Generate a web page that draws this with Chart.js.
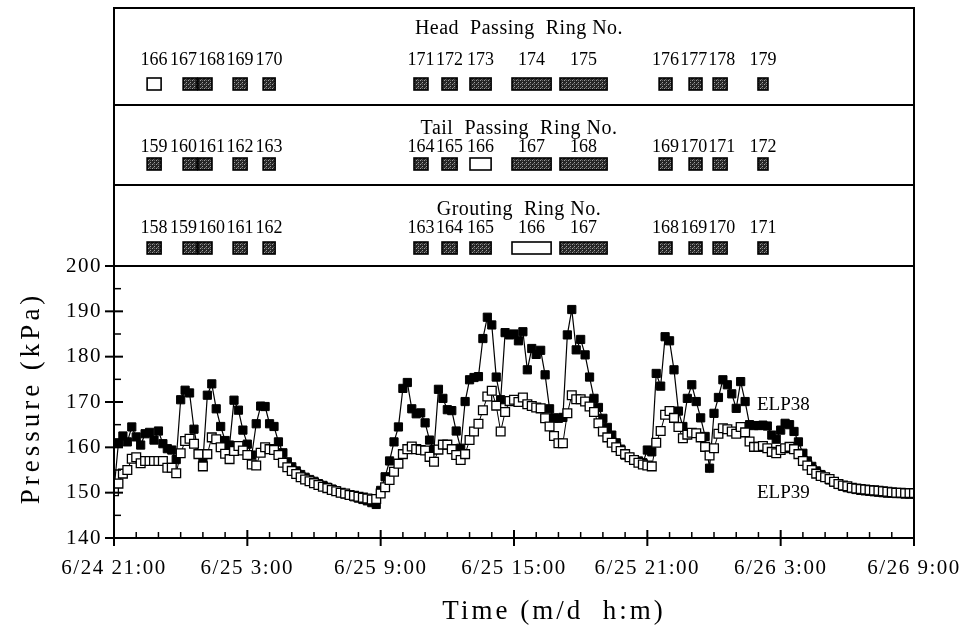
<!DOCTYPE html>
<html>
<head>
<meta charset="utf-8">
<script src="https://cdn.jsdelivr.net/npm/chart.js@4.4.0/dist/chart.umd.min.js"></script>
<style>
  html, body { margin: 0; padding: 0; background: #fff; }
</style>
</head>
<body>
<canvas id="chart" width="964" height="634"></canvas>
<script>
// readings every 12 minutes, starting 6/24 21:00
var stepHours = 0.2;

var timeLabels = ['6/24 21:00', '6/25 3:00', '6/25 9:00', '6/25 15:00', '6/25 21:00', '6/26 3:00', '6/26 9:00'];

// ELP38, one row per hour
var elp38 = [
  150.6, 161.0, 162.5, 161.2, 164.5,
  162.3, 160.5, 163.0, 163.3, 161.6,
  163.6, 160.8, 159.7, 159.4, 157.3,
  170.5, 172.6, 172.0, 164.0, 158.6,
  156.8, 171.5, 174.0, 168.5, 164.6,
  161.5, 160.5, 170.4, 168.2, 163.8,
  160.7, 158.3, 165.2, 169.1, 169.0,
  165.2, 164.6, 161.2, 158.8, 156.8,
  155.7, 154.8, 154.0, 153.4, 152.9,
  152.5, 152.0, 151.6, 151.2, 150.8,
  150.4, 150.0, 149.7, 149.4, 149.1,
  148.8, 148.5, 148.2, 147.8, 147.4,
  150.5, 153.5, 157.0, 161.2, 164.5,
  173.0, 174.3, 168.5, 167.4, 167.6,
  165.4, 161.6, 159.5, 172.8, 170.8,
  168.3, 168.1, 163.6, 159.8, 170.1,
  174.9, 175.4, 175.6, 184.0, 188.7,
  187.0, 175.5, 170.5, 185.3, 184.8,
  185.0, 183.5, 185.5, 177.1, 181.8,
  180.5, 181.4, 176.0, 168.5, 166.5,
  166.4, 166.6, 184.8, 190.4, 181.5,
  183.8, 180.4, 175.5, 170.8, 168.8,
  166.4, 164.4, 162.7, 161.0, 159.6,
  158.3, 157.8, 157.3, 157.0, 156.6,
  159.4, 159.0, 176.3, 173.5, 184.4,
  183.5, 177.1, 168.0, 164.6, 170.8,
  173.8, 170.1, 166.5, 162.4, 155.4,
  167.5, 171.0, 174.9, 173.8, 171.8,
  168.6, 174.5, 170.1, 165.0, 164.8,
  164.8, 164.9, 164.7, 162.7, 161.8,
  163.8, 165.3, 165.0, 163.5, 161.2,
  158.7, 157.0, 155.8, 154.8, 154.0,
  153.4, 152.8, 152.3, 151.8, 151.4,
  151.1, 150.9, 150.7, 150.5, 150.4,
  150.3, 150.2, 150.1, 150.0, 149.9,
  149.9, 149.8, 149.8, 149.7, 149.7,
  149.7
];

// ELP39, one row per hour
var elp39 = [
  150.3, 152.0, 154.2, 155.0, 157.5,
  157.8, 156.5, 157.0, 157.0, 157.0,
  157.0, 157.0, 155.5, 155.5, 154.3,
  158.7, 161.4, 161.9, 160.8, 158.5,
  155.8, 158.5, 162.2, 161.8, 160.0,
  158.6, 157.4, 159.2, 160.3, 159.3,
  158.3, 156.2, 156.0, 158.8, 160.0,
  159.6, 159.4, 158.3, 156.6, 155.6,
  154.8, 154.1, 153.4, 152.9, 152.5,
  152.1, 151.7, 151.3, 151.0, 150.6,
  150.3, 150.0, 149.8, 149.5, 149.3,
  149.1, 148.9, 148.7, 148.5, 148.6,
  149.8, 151.2, 152.8, 154.6, 156.4,
  158.5, 159.6, 160.2, 159.6, 159.4,
  159.3, 157.9, 156.8, 159.5, 160.6,
  160.6, 159.6, 158.3, 157.2, 158.5,
  161.6, 163.5, 165.2, 168.2, 171.2,
  172.5, 169.2, 163.5, 167.8, 170.2,
  170.5, 170.0, 171.0, 169.5, 169.1,
  168.8, 168.6, 166.4, 164.6, 162.5,
  160.9, 160.9, 167.5, 171.5, 170.6,
  170.6, 170.1, 169.0, 167.8, 165.3,
  163.5, 162.2, 161.0, 160.0, 159.2,
  158.5, 157.8, 157.2, 156.6, 156.2,
  156.0, 155.8, 161.0, 163.6, 167.2,
  168.0, 166.5, 164.5, 162.0, 162.8,
  163.2, 163.1, 162.2, 160.1, 158.2,
  159.8, 163.0, 164.2, 164.0, 163.5,
  163.0, 164.5, 163.3, 161.3, 160.1,
  160.1, 160.3, 159.8, 159.0, 158.7,
  159.4, 159.8, 160.1, 159.6, 158.5,
  157.0, 156.0, 155.0, 154.2, 153.7,
  153.4, 153.0, 152.4, 151.9, 151.6,
  151.4, 151.1, 150.9, 150.8, 150.7,
  150.6, 150.5, 150.4, 150.3, 150.2,
  150.1, 150.0, 150.0, 149.9, 149.9,
  149.9
];

// ring activity periods, hours after 6/24 21:00
var boxStart = [1.49, 3.11, 3.78, 5.36, 6.71, 13.50, 14.76, 16.02, 17.91, 20.07, 24.53, 25.88, 26.96, 28.98];
var boxEnd   = [2.12, 3.74, 4.41, 5.99, 7.25, 14.13, 15.44, 16.97, 19.67, 22.19, 25.11, 26.46, 27.59, 29.43];

var headRings  = [166, 167, 168, 169, 170, 171, 172, 173, 174, 175, 176, 177, 178, 179];
var tailRings  = [159, 160, 161, 162, 163, 164, 165, 166, 167, 168, 169, 170, 171, 172];
var groutRings = [158, 159, 160, 161, 162, 163, 164, 165, 166, 167, 168, 169, 170, 171];
var markedRing = 166;

var serif = '"Liberation Serif", "Times New Roman", serif';

var panels = [
  { title: 'Head  Passing  Ring No.', rings: headRings, titleY: 29, labelY: 60, boxTop: 78 },
  { title: 'Tail  Passing  Ring No.', rings: tailRings, titleY: 129, labelY: 147, boxTop: 158 },
  { title: 'Grouting  Ring No.', rings: groutRings, titleY: 210, labelY: 228, boxTop: 242 }
];
var frameTop = 8;
var dividers = [105, 185];

function points(values) {
  return values.map(function (v, i) { return { x: i * stepHours, y: v }; });
}

// dark speckled fill for the ring boxes
var speckle = (function () {
  var c = document.createElement('canvas');
  c.width = 4; c.height = 4;
  var g = c.getContext('2d');
  g.fillStyle = '#262626'; g.fillRect(0, 0, 4, 4);
  g.fillStyle = '#a0a0a0'; g.fillRect(0, 0, 1, 1); g.fillRect(2, 2, 1, 1);
  g.fillStyle = '#646464'; g.fillRect(2, 0, 1, 1); g.fillRect(1, 3, 1, 1);
  return c;
})();

// push overlapping labels apart
function spread(xs, w) {
  var out = xs.slice();
  for (var k = 0; k < 30; k++) {
    for (var i = 1; i < out.length; i++) {
      var gap = out[i] - out[i - 1] - w;
      if (gap < 0) { out[i - 1] += gap / 2; out[i] -= gap / 2; }
    }
  }
  return out;
}

function line(ctx, x0, y0, x1, y1) {
  ctx.beginPath(); ctx.moveTo(x0, y0); ctx.lineTo(x1, y1); ctx.stroke();
}

var decorations = {
  id: 'decorations',
  beforeDraw: function (chart) {
    chart.ctx.letterSpacing = '1.5px';
  },
  afterDraw: function (chart) {
    var ctx = chart.ctx, xs = chart.scales.x, ys = chart.scales.y, a = chart.chartArea;
    ctx.save();
    ctx.letterSpacing = '0px';
    ctx.fillStyle = '#000';
    ctx.strokeStyle = '#000';
    ctx.textBaseline = 'middle';

    // ring panels
    var pattern = ctx.createPattern(speckle, 'repeat');
    panels.forEach(function (p) {
      ctx.font = '20px ' + serif;
      ctx.textAlign = 'center';
      ctx.letterSpacing = '0.5px';
      ctx.fillStyle = '#000';
      ctx.fillText(p.title, 519, p.titleY);
      ctx.letterSpacing = '0px';

      var centers = [];
      p.rings.forEach(function (ring, i) {
        var x0 = xs.getPixelForValue(boxStart[i]);
        var x1 = xs.getPixelForValue(boxEnd[i]);
        ctx.fillStyle = ring === markedRing ? '#fff' : pattern;
        ctx.fillRect(x0, p.boxTop, x1 - x0, 12);
        ctx.lineWidth = 1.6;
        ctx.strokeRect(x0, p.boxTop, x1 - x0, 12);
        centers.push((x0 + x1) / 2);
      });

      ctx.font = '18px ' + serif;
      ctx.fillStyle = '#000';
      var pos = spread(centers, ctx.measureText('000').width + 1);
      p.rings.forEach(function (ring, i) {
        ctx.fillText(String(ring), pos[i], p.labelY);
      });
    });

    // frame and dividers
    ctx.lineWidth = 2;
    ctx.beginPath();
    ctx.moveTo(a.left, frameTop);
    ctx.lineTo(a.right, frameTop);
    ctx.lineTo(a.right, a.bottom);
    ctx.lineTo(a.left, a.bottom);
    ctx.closePath();
    ctx.stroke();
    dividers.concat([a.top]).forEach(function (yy) { line(ctx, a.left, yy, a.right, yy); });

    // tick marks
    ctx.lineWidth = 2;
    ys.ticks.forEach(function (t) {
      var py = ys.getPixelForValue(t.value);
      line(ctx, a.left - 9, py, a.left + 9, py);
    });
    ctx.lineWidth = 1.5;
    for (var v = ys.min + 5; v < ys.max; v += 10) {
      var py = ys.getPixelForValue(v);
      line(ctx, a.left, py, a.left + 7, py);
    }
    ctx.lineWidth = 2;
    xs.ticks.forEach(function (t) {
      var px = xs.getPixelForValue(t.value);
      line(ctx, px, a.bottom - 8, px, a.bottom + 8);
    });
    ctx.lineWidth = 1.5;
    for (var h = 1; h < xs.max; h++) {
      if (h % 6 === 0) continue;
      var px = xs.getPixelForValue(h);
      line(ctx, px, a.bottom - 6, px, a.bottom);
    }

    // series names
    ctx.font = '19px ' + serif;
    ctx.textAlign = 'left';
    ctx.fillText('ELP38', 757, 405);
    ctx.fillText('ELP39', 757, 493);

    // axis titles
    ctx.font = '27px ' + serif;
    ctx.letterSpacing = '3px';
    ctx.textAlign = 'center';
    ctx.fillText('Time (m/d  h:m)', 554, 612);
    ctx.save();
    ctx.translate(32, 398);
    ctx.rotate(-Math.PI / 2);
    ctx.letterSpacing = '4px';
    ctx.fillText('Pressure (kPa)', 0, 0);
    ctx.restore();

    ctx.restore();
  }
};

new Chart(document.getElementById('chart'), {
  type: 'line',
  data: {
    datasets: [
      {
        label: 'ELP39',
        data: points(elp39),
        order: 1,
        borderColor: '#000',
        borderWidth: 1,
        pointStyle: 'rect',
        pointRadius: 6.2,
        pointBackgroundColor: '#fff',
        pointBorderColor: '#000',
        pointBorderWidth: 1.3,
        tension: 0
      },
      {
        label: 'ELP38',
        data: points(elp38),
        order: 2,
        borderColor: '#000',
        borderWidth: 1.2,
        pointStyle: 'rect',
        pointRadius: 5.8,
        pointBackgroundColor: '#000',
        pointBorderColor: '#000',
        pointBorderWidth: 1,
        tension: 0
      }
    ]
  },
  options: {
    responsive: false,
    animation: false,
    events: [],
    layout: { padding: { top: 266, right: 50, left: 0, bottom: 0 } },
    plugins: { legend: { display: false }, tooltip: { enabled: false } },
    scales: {
      x: {
        type: 'linear',
        min: 0,
        max: 36,
        grid: { display: false, drawTicks: false },
        border: { display: false },
        ticks: {
          stepSize: 6,
          autoSkip: false,
          maxRotation: 0,
          padding: 18,
          color: '#000',
          font: { family: serif, size: 21 },
          callback: function (value) { return timeLabels[value / 6]; }
        },
        afterFit: function (scale) {
          scale.height = 96;
          scale.paddingLeft = 0;
          scale.paddingRight = 0;
        }
      },
      y: {
        min: 140,
        max: 200,
        grid: { display: false, drawTicks: false },
        border: { display: false },
        ticks: {
          stepSize: 10,
          padding: 12,
          color: '#000',
          font: { family: serif, size: 21 }
        },
        afterFit: function (scale) { scale.width = 114; }
      }
    }
  },
  plugins: [decorations]
});
</script>
</body>
</html>
